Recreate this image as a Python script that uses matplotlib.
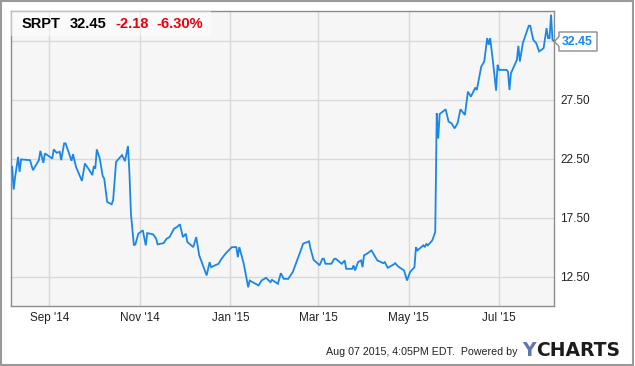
import matplotlib
matplotlib.use("Agg")
import matplotlib.pyplot as plt
from matplotlib.patches import Rectangle, Polygon
import pandas as pd

matplotlib.rcParams.update({
    "font.family": "Liberation Sans",
    "font.size": 8.5,
})

# ── data ─────────────────────────────────────────────────────────────────────
dates = [
    "2014-08-07", "2014-08-08", "2014-08-09", "2014-08-11", "2014-08-12", "2014-08-13",
    "2014-08-19", "2014-08-21", "2014-08-25", "2014-08-26", "2014-08-28", "2014-08-29",
    "2014-09-03", "2014-09-04", "2014-09-06", "2014-09-08", "2014-09-09", "2014-09-11",
    "2014-09-12", "2014-09-16", "2014-09-17", "2014-09-19", "2014-09-23", "2014-09-25",
    "2014-09-28", "2014-09-30", "2014-10-01", "2014-10-02", "2014-10-03", "2014-10-05",
    "2014-10-07", "2014-10-08", "2014-10-10", "2014-10-13", "2014-10-14", "2014-10-16",
    "2014-10-17", "2014-10-20", "2014-10-22", "2014-10-24", "2014-10-25", "2014-10-26",
    "2014-10-28", "2014-10-29", "2014-10-31", "2014-11-03", "2014-11-05", "2014-11-06",
    "2014-11-10", "2014-11-12", "2014-11-13", "2014-11-17", "2014-11-19", "2014-11-21",
    "2014-11-24", "2014-11-26", "2014-11-28", "2014-11-30", "2014-12-02", "2014-12-03",
    "2014-12-07", "2014-12-09", "2014-12-11", "2014-12-16", "2014-12-18", "2014-12-19",
    "2014-12-24", "2014-12-26", "2014-12-29", "2015-01-02", "2015-01-05", "2015-01-06",
    "2015-01-07", "2015-01-10", "2015-01-13", "2015-01-14", "2015-01-16", "2015-01-20",
    "2015-01-22", "2015-01-25", "2015-01-28", "2015-01-29", "2015-02-02", "2015-02-04",
    "2015-02-06", "2015-02-09", "2015-02-10", "2015-02-12", "2015-02-17", "2015-02-19",
    "2015-02-23", "2015-02-24", "2015-02-26", "2015-03-01", "2015-03-02", "2015-03-04",
    "2015-03-05", "2015-03-06", "2015-03-10", "2015-03-12", "2015-03-13", "2015-03-17",
    "2015-03-19", "2015-03-20", "2015-03-24", "2015-03-25", "2015-03-26", "2015-03-28",
    "2015-03-30", "2015-03-31", "2015-04-01", "2015-04-03", "2015-04-06", "2015-04-10",
    "2015-04-14", "2015-04-15", "2015-04-17", "2015-04-21", "2015-04-22", "2015-04-24",
    "2015-04-28", "2015-04-30", "2015-05-02", "2015-05-05", "2015-05-06", "2015-05-07",
    "2015-05-11", "2015-05-12", "2015-05-13", "2015-05-14", "2015-05-17", "2015-05-19",
    "2015-05-20", "2015-05-21", "2015-05-22", "2015-05-26", "2015-05-28", "2015-05-30",
    "2015-06-01", "2015-06-03", "2015-06-05", "2015-06-08", "2015-06-10", "2015-06-12",
    "2015-06-15", "2015-06-16", "2015-06-19", "2015-06-21", "2015-06-23", "2015-06-24",
    "2015-06-25", "2015-06-27", "2015-06-29", "2015-06-30", "2015-07-01", "2015-07-06",
    "2015-07-07", "2015-07-08", "2015-07-09", "2015-07-13", "2015-07-14", "2015-07-15",
    "2015-07-17", "2015-07-21", "2015-07-22", "2015-07-24", "2015-07-26", "2015-07-28",
    "2015-07-31", "2015-08-02", "2015-08-03", "2015-08-04", "2015-08-05", "2015-08-06",
    "2015-08-07",
]
prices = [
    21.79, 19.87, 20.94, 22.64, 21.37, 22.42,
    22.36, 21.51, 22.36, 23.15, 22.13, 22.93,
    22.50, 23.27, 22.98, 23.07, 22.36, 23.78,
    23.78, 22.30, 22.87, 21.79, 20.60, 22.08,
    21.51, 21.09, 21.85, 21.65, 23.27, 22.50,
    21.00, 20.80, 18.82, 18.62, 18.96, 22.22,
    22.36, 22.79, 22.28, 23.55, 21.23, 17.83,
    15.14, 15.22, 16.13, 16.41, 15.14, 16.18,
    16.07, 15.70, 15.22, 15.33, 15.70, 15.84,
    16.55, 16.69, 16.92, 15.84, 16.13, 15.42,
    14.99, 15.84, 14.29, 12.59, 13.72, 13.29,
    13.58, 14.00, 14.48, 14.99, 14.99, 14.14,
    14.99, 13.58, 11.59, 12.16, 12.02, 11.74,
    12.16, 12.39, 12.02, 12.22, 11.88, 12.78,
    12.30, 12.30, 12.50, 12.87, 14.57, 15.28,
    15.48, 14.85, 13.92, 13.58, 13.44, 14.00,
    14.00, 13.58, 13.58, 14.00, 14.00, 13.58,
    13.86, 13.15, 13.15, 13.44, 13.01, 13.72,
    13.86, 13.29, 14.29, 14.43, 14.71, 13.86,
    13.63, 13.72, 13.24, 13.52, 13.63, 13.35,
    13.01, 12.16, 12.87, 13.29, 14.99, 14.71,
    15.14, 14.99, 15.28, 15.14, 15.56, 16.27,
    26.33, 24.20, 26.27, 26.67, 25.62, 25.48,
    25.05, 25.48, 26.67, 26.19, 28.17, 27.74,
    28.51, 28.31, 30.29, 30.72, 32.70, 32.14,
    32.70, 30.58, 28.25, 30.44, 30.01, 30.01,
    29.87, 28.31, 29.73, 30.86, 32.05, 30.72,
    32.28, 33.75, 33.75, 32.56, 32.28, 31.57,
    31.85, 33.55, 32.70, 32.70, 34.69, 32.56,
    32.45,
]
ticker = "SRPT"
last_price = "32.45"
change = "-2.18"
change_pct = "-6.30%"
y_ticks = [12.5, 17.5, 22.5, 27.5, 32.5]
y_labels = ["12.50", "17.50", "22.50", "27.50", ""]
x_ticks = ["2014-09-01", "2014-11-01", "2015-01-01", "2015-03-01", "2015-05-01", "2015-07-01"]
x_labels = ["Sep '14", "Nov '14", "Jan '15", "Mar '15", "May '15", "Jul '15"]
footer = "Aug 07 2015, 4:05PM EDT.  Powered by"

# ── style ────────────────────────────────────────────────────────────────────
C_LINE = "#1a87e6"
C_GRID = "#d9d9d9"
C_SPINE = "#8c8c8c"
C_TEXT = "#222222"
C_RED = "#e8000b"

W, H = 635, 366
fig = plt.figure(figsize=(W / 100, H / 100), dpi=100)
fig.patch.set_facecolor("white")

def fx(px):
    return px / W

def fy(py):
    return 1 - py / H

ax = fig.add_axes([fx(11), fy(306), (554 - 11) / W, (306 - 11) / H])
ax.set_facecolor("#f6f6f6")

ax.plot(pd.to_datetime(dates), prices, color=C_LINE, lw=1.3, zorder=3,
        solid_joinstyle="miter")

ax.set_xlim(pd.Timestamp("2014-08-06 05:00"), pd.Timestamp("2015-08-07"))
ax.set_ylim(10, 35)

ax.set_xticks(pd.to_datetime(x_ticks))
ax.set_xticklabels(x_labels)
ax.set_yticks(y_ticks)
ax.set_yticklabels(y_labels)
ax.yaxis.tick_right()
ax.tick_params(axis="y", length=0, pad=4.5, labelsize=8.5, labelcolor=C_TEXT)
ax.tick_params(axis="x", length=0, pad=4, labelsize=8.5, labelcolor=C_TEXT)
ax.grid(True, color=C_GRID, lw=1.0, zorder=0)
ax.set_axisbelow(True)
for sp in ax.spines.values():
    sp.set_color(C_SPINE)
    sp.set_linewidth(1.0)

# header box with ticker / price / change
ax.add_patch(Rectangle((0, 1 - 25 / 295), 200 / 543, 25 / 295, transform=ax.transAxes,
                       facecolor="white", alpha=0.45, edgecolor="none", zorder=4))
hdr_y = fy(28.5)
fig.text(fx(21.5), hdr_y, ticker, fontsize=10.5, fontweight="bold", color="black", va="baseline")
fig.text(fx(70), hdr_y, last_price, fontsize=10.5, fontweight="bold", color="black", va="baseline")
fig.text(fx(115), hdr_y, change, fontsize=10.5, fontweight="bold", color=C_RED, va="baseline")
fig.text(fx(156), hdr_y, change_pct, fontsize=10.5, fontweight="bold", color=C_RED, va="baseline")

# last price flag on the right
flag = Polygon([(fx(554.5), fy(41.5)), (fx(559), fy(36.5)), (fx(559), fy(32)),
                (fx(597), fy(32)), (fx(597), fy(51)), (fx(559), fy(51)), (fx(559), fy(46.5))],
               closed=True, transform=fig.transFigure, facecolor="white",
               edgecolor="#8c8c8c", lw=1.0, zorder=5)
fig.patches.append(flag)
fig.text(fx(561.5), fy(42), last_price, fontsize=8.8, fontweight="bold", color=C_LINE,
         va="center", ha="left", zorder=6)

# footer
fig.text(fx(518), fy(352), footer, fontsize=7.7, color=C_TEXT, ha="right", va="center")
fig.text(fx(522), fy(350.5), "Y", fontsize=13.5, fontweight="bold", color="#6176b0",
         ha="left", va="center", family="DejaVu Sans")
fig.text(fx(536), fy(350.5), "CHARTS", fontsize=13.5, fontweight="bold", color="#1c1c1c",
         ha="left", va="center", family="DejaVu Sans")

# outer frame
fig.patches.append(Rectangle((fx(1), fy(364.5)), (633 - 1) / W, (364.5 - 1) / H,
                             transform=fig.transFigure, fill=False,
                             edgecolor="#9a9a9a", lw=1.5, zorder=10))

plt.savefig("out.png", dpi=100, facecolor="white")
plt.close()
